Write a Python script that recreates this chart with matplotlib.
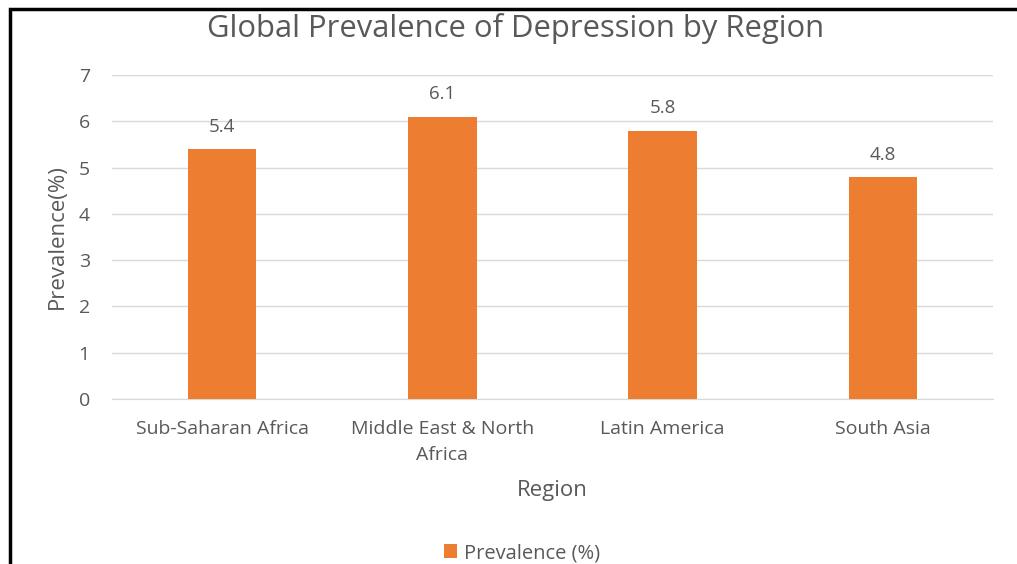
import matplotlib
matplotlib.use('Agg')
import matplotlib.pyplot as plt
from matplotlib.patches import Rectangle

regions = ['Sub-Saharan Africa', 'Middle East & North\nAfrica', 'Latin America', 'South Asia']
prevalence = [5.4, 6.1, 5.8, 4.8]
yticks = [0, 1, 2, 3, 4, 5, 6, 7]

bar_color = '#ED7D31'
text_color = '#595959'
plt.rcParams['font.family'] = ['Open Sans', 'DejaVu Sans']

W, H = 1017, 564
fig = plt.figure(figsize=(W / 100, H / 100), dpi=100)
ax = fig.add_axes([112 / W, 1 - 399 / H, 881 / W, 324 / H])

x = range(len(regions))
bars = ax.bar(x, prevalence, width=0.31, color=bar_color, zorder=3)
for b, v in zip(bars, prevalence):
    ax.annotate(f'{v}', (b.get_x() + b.get_width() / 2, v), xytext=(0, 9.5),
                textcoords='offset points', ha='center', va='bottom',
                fontsize=13.5, color=text_color)

ax.set_xlim(-0.5, len(regions) - 0.5)
ax.set_ylim(0, 7)
ax.set_yticks(yticks)
ax.set_xticks(list(x))
ax.set_xticklabels(regions, linespacing=1.6)
ax.tick_params(axis='both', length=0, colors=text_color, labelsize=14)
ax.tick_params(axis='y', pad=16)
ax.tick_params(axis='x', pad=15)
ax.grid(axis='y', color='#D9D9D9', linewidth=1, zorder=0)
for s in ['top', 'right', 'left']:
    ax.spines[s].set_visible(False)
ax.spines['bottom'].set_color('#D9D9D9')

fig.text(516 / W, 1 - 29 / H, 'Global Prevalence of Depression by Region',
         fontsize=22.3, color=text_color, ha='center', va='center')
ax.set_ylabel('Prevalence(%)', fontsize=16, color=text_color)
ax.yaxis.set_label_coords((57 - 112) / 881, 0.5)
ax.set_xlabel('Region', fontsize=16, color=text_color)
ax.xaxis.set_label_coords(0.5, (399 - 490) / 324)
ax.xaxis.label.set_va('center')
ax.yaxis.label.set_va('center')

leg = fig.legend([bars], ['Prevalence (%)'], loc='center',
                 bbox_to_anchor=(522 / W, 1 - 553 / H),
                 frameon=False, fontsize=14.5, handlelength=0.65, handleheight=0.65,
                 handletextpad=0.35)
for t in leg.get_texts():
    t.set_color(text_color)

# black frame around the chart (left and top edges)
fig.patches.append(Rectangle((9.5 / W, -0.1), 1.2, 1 - 9.5 / H + 0.1,
                             transform=fig.transFigure, fill=False,
                             edgecolor='black', linewidth=2.5))

plt.savefig('out.png', dpi=100)
